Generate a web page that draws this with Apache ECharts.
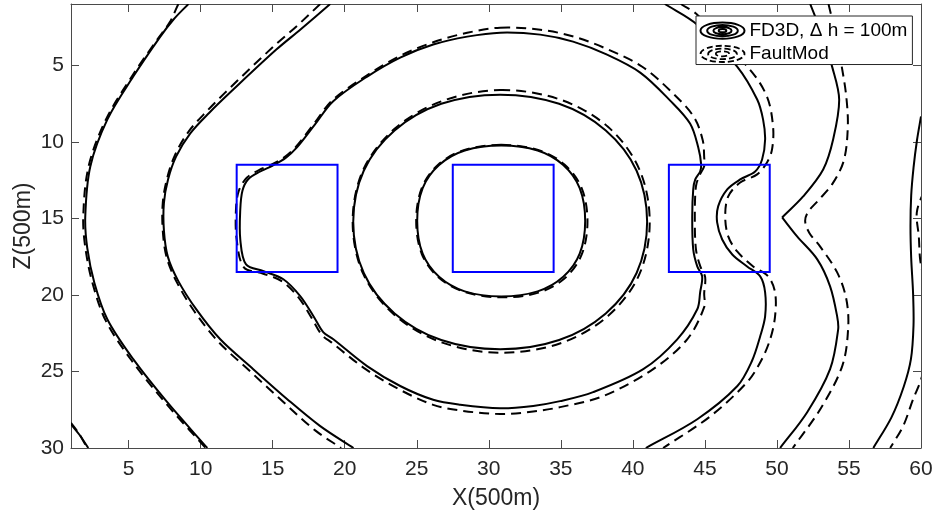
<!DOCTYPE html>
<html>
<head>
<meta charset="utf-8">
<script src="https://cdn.jsdelivr.net/npm/echarts@6/dist/echarts.min.js"></script>
<style>
  html, body { margin: 0; padding: 0; background: #ffffff; }
  #chart { width: 940px; height: 519px; }
</style>
</head>
<body>
<div id="chart"></div>
<script>
// Axis ticks (X and Z in units of 500 m)
const xTicks = [5, 10, 15, 20, 25, 30, 35, 40, 45, 50, 55, 60];
const zTicks = [5, 10, 15, 20, 25, 30];

// Low-velocity blocks: X spans and common Z span
const blockSpansX = [[12.5, 19.5], [27.5, 34.5], [42.5, 49.5]];
const blockSpanZ = [11.5, 18.5];

// FD3D contours, [X, Z] points along each level line
const fdA = [[30.86,10.24],[33.39,10.57],[35.17,11.52],[36.31,13.03],[36.69,15.17],[36.31,17.31],[35.17,18.82],[33.39,19.77],[30.86,20.10],[28.33,19.77],[26.55,18.82],[25.41,17.31],[25.03,15.17],[25.41,13.03],[26.55,11.52],[28.33,10.57],[30.86,10.24]];
const fdB = [[30.79,6.92],[34.88,7.52],[38.12,9.26],[40.26,11.89],[40.99,15.23],[40.26,18.57],[38.12,21.21],[34.88,22.95],[30.79,23.55],[26.70,22.95],[23.46,21.21],[21.32,18.57],[20.59,15.23],[21.32,11.89],[23.46,9.26],[26.70,7.52],[30.79,6.92]];
const fdC = [[30.79,2.87],[33.57,3.00],[35.85,3.46],[38.21,4.31],[40.51,5.48],[42.59,7.31],[43.97,8.81],[44.54,10.37],[44.74,11.48],[44.67,11.94],[44.33,12.46],[44.19,13.11],[44.12,14.88],[44.19,17.03],[44.47,18.14],[44.81,18.79],[44.67,19.83],[44.47,20.94],[43.08,22.90],[40.72,24.85],[37.24,26.35],[34.95,26.94],[33.08,27.25],[30.79,27.40],[28.02,27.17],[26.14,26.85],[23.85,25.95],[21.55,24.65],[19.21,22.90],[18.52,22.45],[17.83,21.39],[16.91,20.08],[15.74,18.98],[14.37,18.45],[13.15,18.01],[12.75,16.38],[12.75,14.42],[12.90,13.20],[13.30,12.45],[14.14,11.94],[15.00,11.55],[15.90,11.05],[16.70,10.35],[17.95,8.85],[19.20,7.35],[21.56,5.74],[23.85,4.50],[26.14,3.65],[28.50,3.13],[30.79,2.87]];
const fdDLeft = [[18.99,1.0],[16.91,2.68],[15.25,3.98],[12.26,6.59],[10.60,8.10],[9.28,9.45],[8.30,10.95],[7.74,12.45],[7.45,14.00],[7.45,15.80],[7.72,17.50],[8.45,19.10],[9.70,20.95],[11.36,22.90],[13.65,24.85],[16.01,26.81],[18.30,28.57],[20.61,30.0]];
const fdDRight = [[42.22,1.0],[44.47,2.35],[47.24,5.09],[48.63,7.24],[49.04,8.55],[49.18,9.85],[48.97,11.16],[48.49,11.94],[47.45,12.46],[46.55,13.11],[45.92,14.22],[45.85,15.27],[46.20,16.38],[46.90,17.36],[47.93,18.14],[48.84,18.79],[49.18,19.83],[49.18,21.40],[48.84,22.70],[48.25,24.35],[47.24,25.97],[44.47,28.12],[40.90,30.0]];
const fdEUpper = [[52.31,1.0],[53.13,3.0],[53.83,5.09],[54.32,7.24],[53.90,9.85],[53.21,11.81],[51.82,13.57],[50.36,14.94]];
const fdELower = [[50.36,14.94],[51.40,16.18],[52.80,17.68],[53.69,19.44],[54.18,21.40],[54.25,22.25],[53.69,24.85],[52.10,27.66],[50.22,30.0]];
const fdF = [[60.0,8.35],[59.72,9.90],[59.48,11.70],[59.32,13.50],[59.27,15.50],[59.32,17.60],[59.45,19.90],[59.48,22.00],[59.30,24.20],[58.80,26.00],[57.95,28.00],[56.69,30.0]];
const fdG = [[9.15,1.0],[8.10,2.03],[7.20,3.13],[5.32,5.74],[3.52,8.55],[2.34,11.61],[1.99,14.88],[2.13,16.95],[2.62,19.20],[3.53,21.61],[5.32,24.20],[7.68,27.01],[10.46,30.0]];
const fdH = [[1.0,28.45],[1.6,29.15],[2.2,30.0]];

// FaultMod contours, same levels
const fmA = [[30.86,10.20],[33.42,10.53],[35.25,11.48],[36.44,13.01],[36.85,15.17],[36.45,17.36],[35.27,18.92],[33.45,19.85],[30.86,20.16],[28.30,19.80],[26.50,18.85],[25.35,17.33],[24.96,15.17],[25.35,13.01],[26.50,11.48],[28.31,10.53],[30.86,10.20]];
const fmB = [[30.79,6.62],[34.95,7.24],[38.27,9.02],[40.44,11.78],[41.17,15.23],[40.44,18.68],[38.27,21.38],[34.98,23.16],[30.79,23.78],[26.66,23.08],[23.42,21.28],[21.27,18.60],[20.55,15.23],[21.27,11.86],[23.44,9.17],[26.72,7.35],[30.79,6.62]];
const fmC = [[30.79,2.55],[33.57,2.68],[35.90,3.13],[38.30,3.98],[40.65,5.10],[42.80,6.85],[44.25,8.40],[44.85,9.90],[44.95,11.00],[44.95,11.60],[44.62,12.20],[44.38,12.90],[44.30,14.88],[44.38,17.03],[44.68,18.14],[45.02,18.85],[44.95,19.90],[44.95,20.80],[43.77,22.90],[41.41,24.85],[37.94,26.61],[34.95,27.33],[33.08,27.62],[30.79,27.78],[28.02,27.55],[26.14,27.18],[23.80,26.18],[21.45,24.85],[19.10,23.12],[18.40,22.60],[17.70,21.50],[16.80,20.18],[15.62,19.10],[14.30,18.60],[13.00,18.20],[12.50,16.38],[12.45,14.42],[12.65,13.20],[13.20,12.35],[14.05,11.85],[14.90,11.50],[15.80,11.02],[16.62,10.32],[17.88,8.80],[19.15,7.28],[21.52,5.68],[23.82,4.40],[26.14,3.50],[28.50,2.88],[30.79,2.55]];
const fmDLeft = [[18.30,1.0],[16.70,2.42],[15.05,3.78],[12.10,6.42],[10.45,7.98],[9.15,9.35],[8.20,10.90],[7.66,12.42],[7.37,14.00],[7.37,15.80],[7.64,17.55],[8.36,19.20],[9.58,21.10],[11.22,23.05],[13.50,25.05],[15.80,27.05],[17.95,28.85],[19.75,30.0]];
const fmDRight = [[43.33,1.0],[44.47,1.70],[48.13,5.29],[49.31,7.05],[49.73,9.00],[49.66,10.50],[49.31,11.35],[48.63,12.13],[47.45,12.66],[46.62,13.57],[46.41,14.88],[46.62,16.18],[47.24,17.16],[48.35,18.14],[49.39,18.79],[49.87,19.83],[49.87,21.40],[49.53,22.90],[48.90,24.30],[47.93,25.70],[45.36,27.94],[42.10,30.0]];
const fmE = [[53.58,1.0],[54.10,3.10],[54.52,5.20],[54.82,7.10],[54.92,9.00],[54.65,11.20],[53.85,12.75],[52.85,13.85],[52.15,14.60],[51.96,15.20],[52.25,15.95],[52.99,16.83],[54.18,18.53],[54.80,20.20],[54.95,22.05],[54.55,24.60],[53.05,27.40],[51.10,30.0]];
const fmFUpper = [[60.2,13.2],[59.71,14.61],[59.85,16.2],[59.94,17.68],[60.2,19.0]];
const fmFLower = [[60.2,24.9],[59.94,25.71],[59.45,26.82],[58.76,28.57],[57.86,30.0]];
const fmG = [[8.45,1.0],[7.85,2.2],[7.0,3.3],[5.22,5.74],[3.42,8.55],[2.22,11.61],[1.85,14.88],[2.0,16.95],[2.50,19.25],[3.42,21.70],[5.22,24.30],[7.60,27.10],[10.35,30.0]];
const fmH = [[1.0,28.35],[1.55,29.05],[2.12,30.0]];

const NAME_FD3D = 'FD3D, \u0394 h = 100m';
const NAME_FAULTMOD = 'FaultMod';

const fd3dLines = [fdA, fdB, fdC, fdDLeft, fdDRight, fdEUpper, fdELower, fdF, fdG, fdH];
const faultModLines = [fmA, fmB, fmC, fmDLeft, fmDRight, fmE, fmFUpper, fmFLower, fmG, fmH];

const FONT = '"Liberation Sans", Arial, Helvetica, sans-serif';
const AXIS_COLOR = '#4a4a4a';
const TEXT_COLOR = '#262626';

// Concentric ellipses used as the contour legend glyph
function ellipse(cx, cy, rx, ry) {
  return 'M' + (cx - rx) + ',' + cy +
    ' A' + rx + ',' + ry + ' 0 1,1 ' + (cx + rx) + ',' + cy +
    ' A' + rx + ',' + ry + ' 0 1,1 ' + (cx - rx) + ',' + cy + ' Z ';
}
const solidIcon = 'path://' + ellipse(24, 9, 23, 8.5) + ellipse(24, 9, 16, 6) + ellipse(24, 9, 9.5, 3.8) + ellipse(24, 9, 4, 1.6);
const dashedIcon = 'path://' + ellipse(24, 9, 23, 8.5) + ellipse(24, 9, 15, 5.5) + ellipse(24, 9, 7, 2.6);

// Chord-length Catmull-Rom curve through pixel points, as cubic Bezier path data.
// A closed level line repeats its first point at the end.
function splinePath(pts) {
  const n = pts.length;
  const closed = n > 3 && pts[0][0] === pts[n - 1][0] && pts[0][1] === pts[n - 1][1];
  const dist = (a, b) => Math.hypot(b[0] - a[0], b[1] - a[1]) || 1e-6;
  const at = (i) => {
    if (closed) { const m = n - 1; return pts[((i % m) + m) % m]; }
    return pts[Math.max(0, Math.min(n - 1, i))];
  };
  const tangent = (i) => {
    const p = at(i - 1), c = at(i), q = at(i + 1);
    const s = dist(p, c) + dist(c, q);
    return [(q[0] - p[0]) / s, (q[1] - p[1]) / s];
  };
  let d = 'M' + pts[0][0].toFixed(2) + ' ' + pts[0][1].toFixed(2);
  for (let i = 0; i < n - 1; i++) {
    const a = pts[i], b = pts[i + 1], L = dist(a, b) / 3;
    const ta = tangent(i), tb = tangent(i + 1);
    d += ' C' + (a[0] + ta[0] * L).toFixed(2) + ' ' + (a[1] + ta[1] * L).toFixed(2) +
         ' ' + (b[0] - tb[0] * L).toFixed(2) + ' ' + (b[1] - tb[1] * L).toFixed(2) +
         ' ' + b[0].toFixed(2) + ' ' + b[1].toFixed(2);
  }
  return d;
}

function contourSeries(name, points, dashed) {
  return {
    type: 'custom',
    name: name,
    coordinateSystem: 'cartesian2d',
    data: points,
    encode: { x: 0, y: 1 },
    clip: true,
    silent: true,
    z: 2,
    itemStyle: { color: '#000000' },
    renderItem: function (params, api) {
      if (params.dataIndex !== 0) return null;
      const px = points.map(p => api.coord(p));
      const cs = params.coordSys;
      return {
        type: 'path',
        shape: { pathData: splinePath(px) },
        style: {
          fill: 'none', stroke: '#000000', lineWidth: 2,
          lineDash: dashed ? [10, 6] : null, lineJoin: 'round'
        },
        clipPath: { type: 'rect', shape: { x: cs.x, y: cs.y, width: cs.width, height: cs.height } }
      };
    }
  };
}

function blockSeries(span) {
  const [x0, x1] = span;
  const [z0, z1] = blockSpanZ;
  return {
    type: 'line',
    data: [[x0, z0], [x1, z0], [x1, z1], [x0, z1], [x0, z0]],
    symbol: 'none',
    showSymbol: false,
    clip: true,
    silent: true,
    lineStyle: { color: '#0000ff', width: 2, cap: 'square', join: 'miter' },
    z: 3
  };
}

const series = []
  .concat(fd3dLines.map(p => contourSeries(NAME_FD3D, p, false)))
  .concat(faultModLines.map(p => contourSeries(NAME_FAULTMOD, p, true)))
  .concat(blockSpansX.map(blockSeries));

function xAxisCfg(position, showLabels) {
  return {
    type: 'value', min: 1, max: 60, position: position,
    axisLine: { show: true, onZero: false, lineStyle: { color: AXIS_COLOR, width: 1 } },
    axisTick: { show: true, inside: true, length: 8, customValues: xTicks, lineStyle: { color: AXIS_COLOR, width: 1 } },
    axisLabel: { show: showLabels, customValues: xTicks, margin: 11, fontSize: 21, fontFamily: FONT, color: TEXT_COLOR },
    splitLine: { show: false },
    name: showLabels ? 'X(500m)' : '',
    nameLocation: 'middle', nameGap: 39, nameMoveOverlap: false,
    nameTextStyle: { fontSize: 23, fontFamily: FONT, color: TEXT_COLOR }
  };
}
function yAxisCfg(position, showLabels) {
  return {
    type: 'value', min: 1, max: 30, inverse: true, position: position,
    axisLine: { show: true, onZero: false, lineStyle: { color: AXIS_COLOR, width: 1 } },
    axisTick: { show: true, inside: true, length: 8, customValues: zTicks, lineStyle: { color: AXIS_COLOR, width: 1 } },
    axisLabel: { show: showLabels, customValues: zTicks, margin: 7, fontSize: 21, fontFamily: FONT, color: TEXT_COLOR },
    splitLine: { show: false },
    name: showLabels ? 'Z(500m)' : '',
    nameLocation: 'middle', nameGap: 36, nameMoveOverlap: false,
    nameTextStyle: { fontSize: 23, fontFamily: FONT, color: TEXT_COLOR }
  };
}

const chart = echarts.init(document.getElementById('chart'), null, { renderer: 'canvas' });
chart.setOption({
  animation: false,
  backgroundColor: '#ffffff',
  grid: { left: 71, right: 19, top: 4, bottom: 71, outerBoundsMode: 'none', containLabel: false },
  xAxis: [xAxisCfg('bottom', true), xAxisCfg('top', false)],
  yAxis: [yAxisCfg('left', true), yAxisCfg('right', false)],
  legend: {
    left: 696, top: 16,
    orient: 'vertical',
    selectedMode: false,
    backgroundColor: '#ffffff',
    borderColor: '#262626', borderWidth: 1, borderRadius: 0,
    padding: [4, 5, 0, 2],
    itemGap: 2,
    itemWidth: 44, itemHeight: 17,
    textStyle: { fontSize: 19, fontFamily: FONT, color: '#000000', lineHeight: 21 },
    data: [
      { name: NAME_FD3D, icon: solidIcon,
        itemStyle: { color: 'none', borderColor: '#000000', borderWidth: 2, borderType: 'solid', opacity: 1 } },
      { name: NAME_FAULTMOD, icon: dashedIcon,
        itemStyle: { color: 'none', borderColor: '#000000', borderWidth: 1.8, borderType: [6, 3], opacity: 1 } }
    ],
    z: 10
  },
  series: series
});
</script>
</body>
</html>
